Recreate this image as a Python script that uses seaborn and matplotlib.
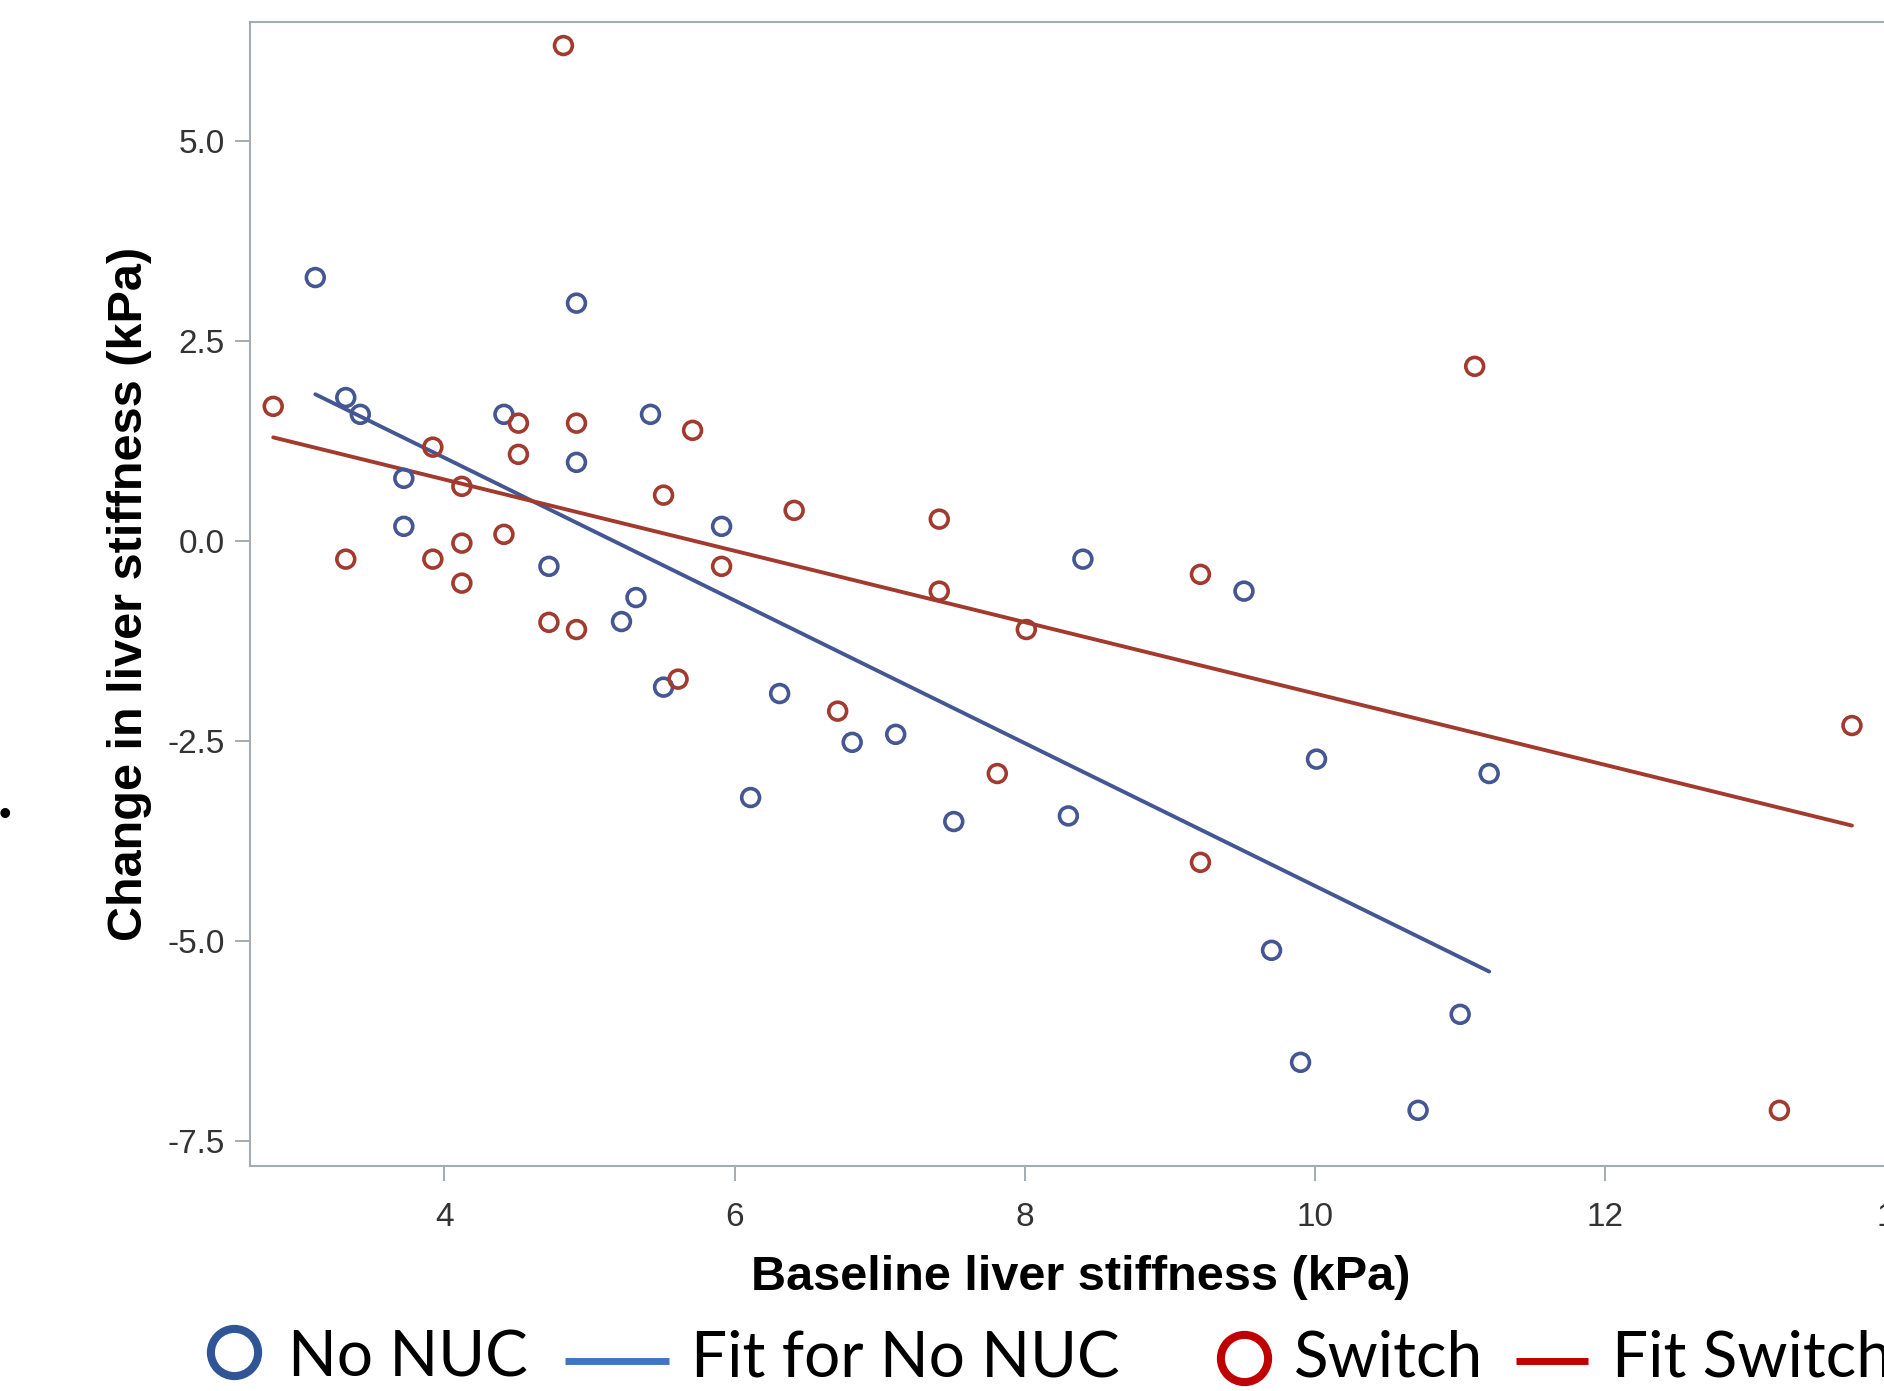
import matplotlib

matplotlib.use("Agg")
import matplotlib.pyplot as plt  # noqa: E402
import pandas as pd  # noqa: E402
import seaborn as sns  # noqa: E402
from matplotlib.lines import Line2D  # noqa: E402

BLUE = "#445694"
RED = "#A23A2E"
LEG_BLUE_MK = "#2F5597"
LEG_BLUE_LN = "#4472C4"
LEG_RED = "#C00000"
FRAME = "#A3ACB1"

# valores (kPa)
NONUC_X = [3.11, 3.32, 3.42, 3.72, 3.72, 4.41, 4.72, 4.91, 4.91, 5.22, 5.32, 5.42, 5.51, 5.91,
           6.11, 6.31, 6.81, 7.11, 7.51, 8.30, 8.40, 9.51, 9.70, 9.90, 10.01, 10.71, 11.00, 11.20]
NONUC_Y = [3.29, 1.79, 1.58, 0.78, 0.18, 1.58, -0.32, 2.97, 0.98, -1.01, -0.71, 1.58, -1.83, 0.18,
           -3.21, -1.91, -2.52, -2.42, -3.51, -3.44, -0.23, -0.63, -5.12, -6.52, -2.73, -7.12, -5.92, -2.91]
SWITCH_X = [2.82, 3.32, 3.92, 3.92, 4.12, 4.12, 4.12, 4.41, 4.51, 4.51, 4.72, 4.82, 4.91, 4.91, 5.51,
            5.61, 5.71, 5.91, 6.41, 6.71, 7.41, 7.41, 7.81, 8.01, 9.21, 9.21, 11.10, 13.20, 13.70]
SWITCH_Y = [1.68, -0.23, 1.17, -0.23, 0.68, -0.03, -0.53, 0.08, 1.47, 1.08, -1.02, 6.19, 1.47, -1.11, 0.57,
            -1.73, 1.38, -0.32, 0.38, -2.13, 0.27, -0.63, -2.91, -1.11, -0.42, -4.02, 2.18, -7.12, -2.31]
XTICKS = [4, 6, 8, 10, 12, 14]
YTICKS = [-7.5, -5.0, -2.5, 0.0, 2.5, 5.0]

sns.set_theme(style="white")
plt.rcParams.update({"font.family": ["Liberation Sans", "DejaVu Sans"], "axes.unicode_minus": False})

df = pd.concat(
    [
        pd.DataFrame({"x": NONUC_X, "y": NONUC_Y, "grupo": "No NUC"}),
        pd.DataFrame({"x": SWITCH_X, "y": SWITCH_Y, "grupo": "Switch"}),
    ]
)

fig = plt.figure(figsize=(18.84, 13.91), dpi=100)
ax = fig.add_axes([0.1327, 0.1621, 0.8965, 0.8224])
for grupo, col in (("No NUC", BLUE), ("Switch", RED)):
    sub = df[df.grupo == grupo]
    sns.regplot(
        data=sub, x="x", y="y", ci=None, truncate=True, color=col, ax=ax,
        scatter_kws={"s": 165, "facecolors": "none", "linewidths": 2.6, "alpha": 1, "zorder": 3},
        line_kws={"lw": 2.8, "zorder": 2},
    )

ax.set_xlim(2.66, 14.3)
ax.set_ylim(-7.81, 6.49)
ax.set_xticks(XTICKS)
ax.set_yticks(YTICKS, [f"{v:.1f}" for v in YTICKS])
for sp in ax.spines.values():
    sp.set_color(FRAME)
    sp.set_linewidth(1.5)
ax.tick_params(axis="both", which="major", direction="out", length=11, width=1.4, color=FRAME,
               labelsize=24, labelcolor="#333333", bottom=True, left=True)
ax.tick_params(axis="x", pad=15)
ax.tick_params(axis="y", pad=7)

ax.set_xlabel("Baseline liver stiffness (kPa)", fontsize=35, fontweight="bold", color="black")
ax.set_ylabel("Change in liver stiffness (kPa)", fontsize=35, fontweight="bold", color="black")
ax.xaxis.label.set_va("center")
ax.yaxis.label.set_va("center")
ax.xaxis.set_label_coords(0.492, -0.098)
ax.yaxis.set_label_coords(-0.0712, 0.5)

# leyenda añadida encima (estilo diapositiva)
legfont = {"family": ["Lato", "DejaVu Sans"], "fontsize": 46, "color": "black", "va": "baseline"}
fig.add_artist(Line2D([0.1242], [0.0280], marker="o", ms=34, mfc="none", mec=LEG_BLUE_MK, mew=5.8,
                      transform=fig.transFigure))
fig.text(0.1529, 0.0101, "No NUC", **legfont)
fig.add_artist(Line2D([0.2999, 0.3551], [0.0216, 0.0216], color=LEG_BLUE_LN, lw=5, solid_capstyle="butt",
                      transform=fig.transFigure))
fig.text(0.3668, 0.0101, "Fit for No NUC", **legfont)
fig.add_artist(Line2D([0.6603], [0.0237], marker="o", ms=34, mfc="none", mec=LEG_RED, mew=5.8,
                      transform=fig.transFigure))
fig.text(0.6868, 0.0101, "Switch", **legfont)
fig.add_artist(Line2D([0.8047, 0.8429], [0.0216, 0.0216], color=LEG_RED, lw=5, solid_capstyle="butt",
                      transform=fig.transFigure))
fig.text(0.8556, 0.0101, "Fit Switch", **legfont)
fig.text(0.0024, 1 - 815 / 1391, "•", ha="center", va="center", fontsize=26, color="black")

fig.savefig("out.png", dpi=100)
